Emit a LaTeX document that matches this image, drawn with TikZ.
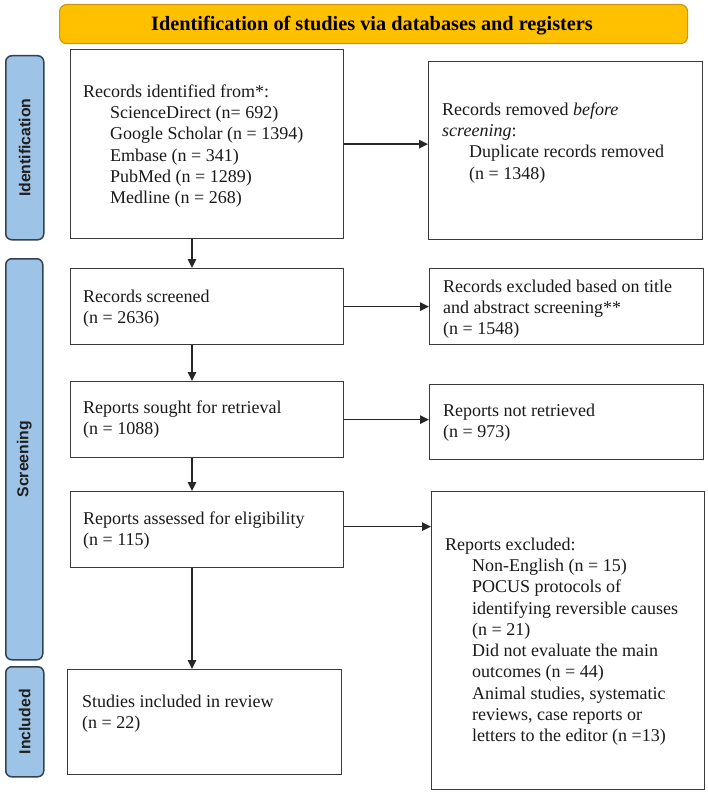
\documentclass[tikz,border=0pt]{standalone}
\usepackage{fontspec}
\setmainfont{Liberation Serif}
\newfontfamily\lsans{Liberation Sans}
\usetikzlibrary{arrows.meta}
\definecolor{gold}{HTML}{FFC000}
\definecolor{goldline}{HTML}{C99A10}
\definecolor{sideblue}{HTML}{9DC3E6}
\definecolor{sideline}{HTML}{34414E}
\definecolor{boxline}{HTML}{3A3A3A}
\tikzset{
  flowbox/.style={draw=boxline, line width=1.3pt, rectangle, inner sep=0pt, anchor=north west},
  txt/.style={anchor=north west, inner sep=0pt, align=left, text=black!90, font=\fontsize{18}{21.3}\selectfont},
  sidelbl/.style={draw=sideline, fill=sideblue, line width=1.5pt, rounded corners=6pt, rectangle, inner sep=0pt, anchor=north west},
  sidetxt/.style={rotate=90, font=\lsans\bfseries\fontsize{15.8}{18}\selectfont, text=black!88, inner sep=0pt},
  arr/.style={draw=black!85, line width=1.4pt, -{Triangle[length=9pt,width=8.5pt]}},
}
\newcommand{\ind}{\hspace*{27pt}}
\begin{document}
\begin{tikzpicture}[x=1pt,y=-1pt]
\useasboundingbox (0,0) rectangle (708,794);
% title
\node[draw=goldline, fill=gold, line width=1.2pt, rounded corners=7pt, anchor=north west, minimum width=628pt, minimum height=39pt, inner sep=0pt] (title) at (59,4) {};
\node[font=\bfseries\fontsize{20.3}{22}\selectfont, inner sep=0pt] (titletxt) at (372,25.5) {Identification of studies via databases and registers};
% side labels
\node[sidelbl, minimum width=38pt, minimum height=184pt] (lid) at (5,55) {};
\node[sidetxt] (lidt) at (lid.center) {Identification};
\node[sidelbl, minimum width=37pt, minimum height=401pt] (lsc) at (5,258) {};
\node[sidetxt] (lsct) at (lsc.center) {Screening};
\node[sidelbl, minimum width=38pt, minimum height=110pt] (lin) at (5,666) {};
\node[sidetxt] (lint) at (lin.center) {Included};
% boxes
\node[flowbox, minimum width=273pt, minimum height=189pt] (b1) at (70,49) {};
\node[flowbox, minimum width=274pt, minimum height=178pt] (b2) at (428,61) {};
\node[flowbox, minimum width=273pt, minimum height=76pt] (b3) at (70,268) {};
\node[flowbox, minimum width=274pt, minimum height=76pt] (b4) at (429,268) {};
\node[flowbox, minimum width=273pt, minimum height=76pt] (b5) at (70,381) {};
\node[flowbox, minimum width=274pt, minimum height=75pt] (b6) at (429,384) {};
\node[flowbox, minimum width=273pt, minimum height=76pt] (b7) at (70,491) {};
\node[flowbox, minimum width=273pt, minimum height=298pt] (b8) at (431,491) {};
\node[flowbox, minimum width=274pt, minimum height=105pt] (b9) at (67,669) {};
% texts
\node[txt] (t1) at (83,82) {\strut Records identified from*:\\\ind ScienceDirect (n= 692)\\\ind Google Scholar (n = 1394)\\\ind Embase (n = 341)\\\ind PubMed (n = 1289)\\\ind Medline (n = 268)};
\node[txt] (t2) at (442,100) {\strut Records removed \textit{before}\\\textit{screening}:\\\ind Duplicate records removed\\\ind (n = 1348)};
\node[txt] (t3) at (83,287) {\strut Records screened\\(n = 2636)};
\node[txt] (t4) at (443,277) {\strut Records excluded based on title\\and abstract screening**\\(n = 1548)};
\node[txt] (t5) at (83,398) {\strut Reports sought for retrieval\\(n = 1088)};
\node[txt] (t6) at (443,401) {\strut Reports not retrieved\\(n = 973)};
\node[txt] (t7) at (83,509) {\strut Reports assessed for eligibility\\(n = 115)};
\node[txt] (t8) at (445,535) {\strut Reports excluded:\\\ind Non-English (n = 15)\\\ind POCUS protocols of\\\ind identifying reversible causes\\\ind (n = 21)\\\ind Did not evaluate the main\\\ind outcomes (n = 44)\\\ind Animal studies, systematic\\\ind reviews, case reports or\\\ind letters to the editor (n =13)};
\node[txt] (t9) at (82,692) {\strut Studies included in review\\(n = 22)};
% connectors
\coordinate (cx) at (192,0);
\draw[arr] (b1.south -| cx) -- (b3.north -| cx);
\draw[arr] (b3.south -| cx) -- (b5.north -| cx);
\draw[arr] (b5.south -| cx) -- (b7.north -| cx);
\draw[arr] (b7.south -| cx) -- (b9.north -| cx);
\draw[arr] (b1.east) -- (b1.east -| b2.west);
\draw[arr] (b3.east) -- (b3.east -| b4.west);
\draw[arr] (b5.east) -- (b5.east -| b6.west);
\draw[arr] ([yshift=3pt]b7.east) -- ([yshift=3pt]b7.east -| b8.west);
\end{tikzpicture}
\end{document}
